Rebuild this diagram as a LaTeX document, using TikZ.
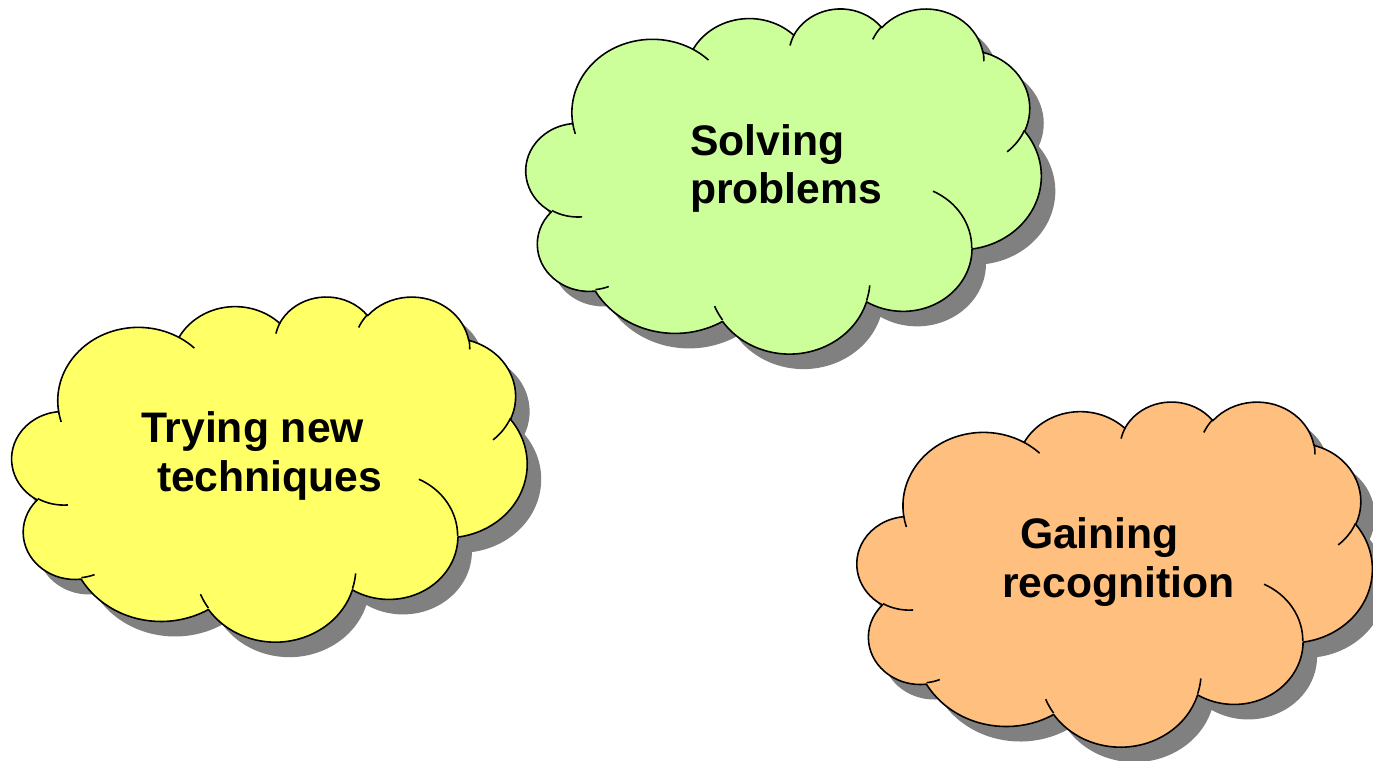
\documentclass[tikz,border=0pt]{standalone}
\usepackage{fontspec}
\setmainfont{Liberation Sans}
\definecolor{cgreen}{HTML}{CCFF99}
\definecolor{cyellow}{HTML}{FFFF66}
\definecolor{corange}{HTML}{FFBF7F}
\definecolor{shadowgray}{HTML}{808080}
% visual (DrawingML) angle -> parametric angle
\pgfmathdeclarefunction{vpa}{3}{%
  \begingroup
  \pgfmathparse{atan2((#2)*sin(#1),(#3)*cos(#1))}%
  \let\vpt\pgfmathresult
  \pgfmathparse{\vpt+360*round(((#1)-\vpt)/360)}%
  \pgfmathsmuggle\pgfmathresult
  \endgroup
}
\newcommand\mkarc[5]{%
  \pgfmathsetmacro\tmpa{vpa(#4,#2,#3)}%
  \pgfmathsetmacro\tmpb{vpa(#4+#5,#2,#3)}%
  \xdef#1{arc[x radius=#2, y radius=#3, start angle=\tmpa, end angle=\tmpb]}%
}
\mkarc\cA{6.753}{9.190}{-190.4875}{123.7805}
\mkarc\cB{5.333}{7.267}{-144.1024}{89.9452}
\mkarc\cC{4.365}{5.945}{-145.8079}{99.7230}
\mkarc\cD{4.857}{6.595}{-130.9861}{117.2417}
\mkarc\cE{5.333}{7.273}{-78.7089}{109.0269}
\mkarc\cF{6.775}{9.220}{-46.2673}{130.2690}
\mkarc\cG{5.785}{7.867}{0.6250}{114.0333}
\mkarc\cH{6.752}{9.215}{22.4516}{115.1726}
\mkarc\cI{7.720}{10.543}{66.2426}{75.7110}
\mkarc\cJ{4.360}{5.918}{-274.9421}{146.7356}
\mkarc\cK{4.345}{5.945}{-246.8285}{152.5189}
\mkarc\iA{4.345}{5.945}{86.7420}{26.4295}
\mkarc\iB{4.360}{5.918}{73.6105}{11.4475}
\mkarc\iC{6.752}{9.215}{137.6242}{14.0811}
\mkarc\iD{6.752}{9.215}{6.4533}{15.9984}
\mkarc\iE{5.785}{7.867}{-70.2924}{70.9174}
\mkarc\iF{5.333}{7.273}{30.3180}{27.7515}
\mkarc\iG{4.857}{6.595}{-13.7443}{14.8589}
\mkarc\iH{4.857}{6.595}{-149.1815}{18.1954}
\mkarc\iI{4.365}{5.945}{-163.4943}{17.6864}
\mkarc\iJ{6.753}{9.190}{-66.7070}{12.3194}
\mkarc\iK{6.753}{9.190}{157.6544}{11.8539}
\def\cloudpath{(3.900,14.370) \cA \cB \cC \cD \cE \cF \cG \cH \cI \cJ \cK -- cycle}
\def\cloudinner{(4.693,26.177) \iA (6.928,34.899) \iB (16.478,39.090) \iC
  (28.827,34.751) \iD (34.129,22.954) \iE (41.798,15.354) \iF
  (38.324,5.426) \iG (29.078,3.952) \iH (22.141,4.720) \iI
  (14.000,5.192) \iJ (4.127,15.789) \iK}
\tikzset{
  cloudline/.style={draw=black, line width=0.9pt, line join=round},
  cloudbox/.style={xscale=0.238426, yscale=-0.159722},
  lbl/.style={font=\bfseries\fontsize{24.3pt}{28pt}\selectfont, inner sep=0pt, outer sep=0pt, anchor=base west}
}
% #1 x0 px, #2 y0 px, #3 fill colour
\newcommand\drawcloud[3]{%
  \begin{scope}[shift={({0.02*#1+0.28},{0.02*(761-#2)-0.30})}, cloudbox]
    \fill[shadowgray] \cloudpath;
  \end{scope}
  \begin{scope}[shift={({0.02*#1},{0.02*(761-#2)})}, cloudbox]
    \draw[cloudline, fill=#3] \cloudpath;
    \draw[cloudline] \cloudinner;
  \end{scope}}
\begin{document}
\begin{tikzpicture}
\useasboundingbox (0,0) rectangle (27.46,15.22);
\drawcloud{526}{8}{cgreen}
\drawcloud{12}{296}{cyellow}
\drawcloud{857}{401}{corange}
\node[lbl] (s1) at (13.80,12.10) {Solving};
\node[lbl] (s2) at (13.80,11.14) {problems};
\node[lbl] (t1) at (2.82,6.36) {Trying new};
\node[lbl] (t2) at (3.14,5.38) {techniques};
\node[lbl] (g1) at (20.40,4.24) {Gaining};
\node[lbl] (g2) at (20.04,3.26) {recognition};
\end{tikzpicture}
\end{document}
